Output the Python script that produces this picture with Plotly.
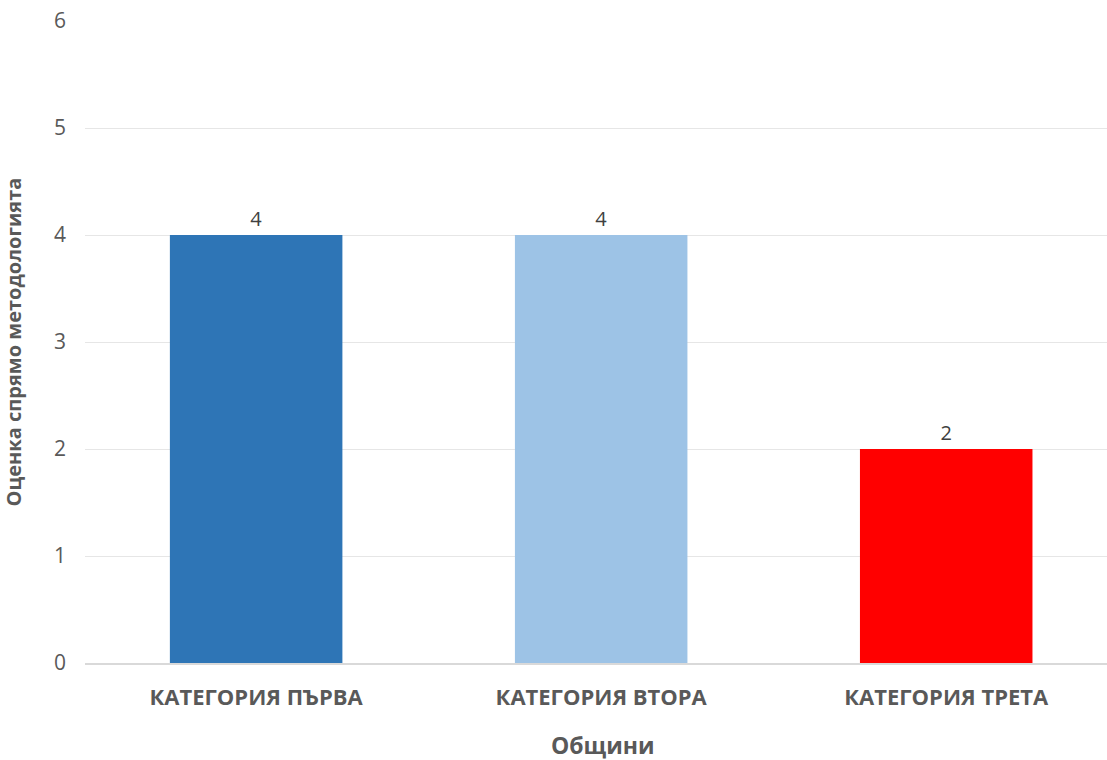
import plotly.graph_objects as go

categories = ["КАТЕГОРИЯ ПЪРВА", "КАТЕГОРИЯ ВТОРА", "КАТЕГОРИЯ ТРЕТА"]
values = [4, 4, 2]
colors = ["#2E75B6", "#9DC3E6", "#FF0000"]

fig = go.Figure(go.Bar(
    x=categories, y=values,
    marker=dict(color=colors, line=dict(width=0)),
    width=0.5,
    text=[str(v) for v in values], textposition="outside",
    textfont=dict(family="Open Sans", size=20, color="#404040"),
    cliponaxis=False,
))

fig.update_layout(
    width=1107, height=760,
    margin=dict(l=85, r=0, t=21, b=97),
    paper_bgcolor="white", plot_bgcolor="white",
    font=dict(family="Open Sans", color="#595959"),
    showlegend=False,
    xaxis=dict(
        range=[-0.496, 2.466],
        tickfont=dict(family="Open Sans", size=22, color="#595959", weight="bold"),
        showline=True, linecolor="#D9D9D9", linewidth=2,
        ticks="", ticklabelstandoff=14,
    ),
    yaxis=dict(
        range=[0, 6], dtick=1,
        tickfont=dict(family="Open Sans", size=21, color="#595959"),
        title=dict(text="<b>Оценка спрямо методологията</b>", font=dict(family="Open Sans", size=20, color="#595959"), standoff=28),
        showgrid=True, gridcolor="#E6E6E6", gridwidth=1,
        zeroline=False, ticks="", ticklabelstandoff=18,
    ),
    annotations=[dict(
        text="<b>Общини</b>", xref="paper", yref="paper",
        x=0.507, y=-0.1277, xanchor="center", yanchor="middle",
        showarrow=False, font=dict(family="Open Sans", size=23, color="#595959"),
    )],
)

fig.write_html("out.html")
